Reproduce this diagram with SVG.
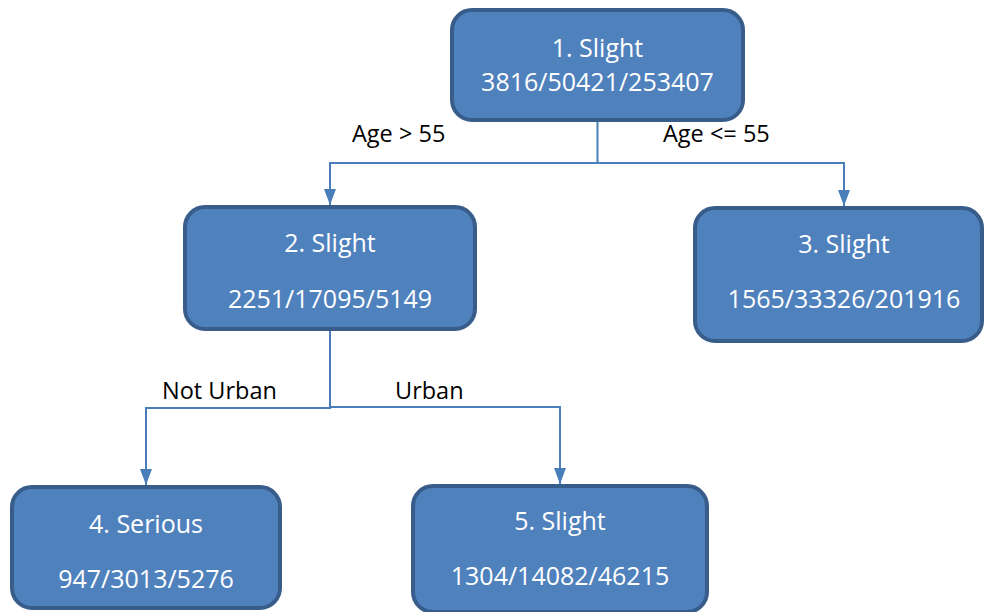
<svg xmlns="http://www.w3.org/2000/svg" width="984" height="612" viewBox="0 0 984 612">
<defs>
<style>
.box{fill:#4f81bd;stroke:#385d8a;stroke-width:4}
.nt{font-family:"Open Sans","Liberation Sans",sans-serif;font-size:25px;fill:#ffffff;text-anchor:middle}
.lbl{font-family:"Open Sans","Liberation Sans",sans-serif;font-size:23.5px;fill:#000000}
.con{fill:none;stroke:#4a7ebb;stroke-width:2}
</style>
<marker id="arr" viewBox="0 0 16 12" refX="16" refY="6" markerWidth="16" markerHeight="12" markerUnits="userSpaceOnUse" orient="auto">
<path d="M0,0 L16,6 L0,12 Z" fill="#4a7ebb"/>
</marker>
</defs>
<rect width="984" height="612" fill="#ffffff"/>
<g id="connectors">
<path class="con" d="M597.5,121 V163 H330 V205" marker-end="url(#arr)"/>
<path class="con" d="M597.5,163 H844 V206" marker-end="url(#arr)"/>
<path class="con" d="M330,331 V408 H146 V485" marker-end="url(#arr)"/>
<path class="con" d="M330,407 H560 V484" marker-end="url(#arr)"/>
</g>
<g id="labels">
<text class="lbl" x="352" y="142">Age &gt; 55</text>
<text class="lbl" x="663" y="142">Age &lt;= 55</text>
<text class="lbl" x="162" y="399">Not Urban</text>
<text class="lbl" x="395" y="399">Urban</text>
</g>
<g id="node1">
<rect class="box" x="452" y="10" width="291" height="110" rx="20"/>
<text class="nt" x="597.5" y="57">1. Slight</text>
<text class="nt" x="597.5" y="91">3816/50421/253407</text>
</g>
<g id="node2">
<rect class="box" x="185" y="207" width="290" height="122" rx="20"/>
<text class="nt" x="330" y="252">2. Slight</text>
<text class="nt" x="330" y="308">2251/17095/5149</text>
</g>
<g id="node3">
<rect class="box" x="695" y="208" width="287" height="133" rx="20"/>
<text class="nt" x="844" y="253">3. Slight</text>
<text class="nt" x="844" y="308">1565/33326/201916</text>
</g>
<g id="node4">
<rect class="box" x="12" y="487" width="268" height="121" rx="20"/>
<text class="nt" x="146" y="533">4. Serious</text>
<text class="nt" x="146" y="588">947/3013/5276</text>
</g>
<g id="node5">
<rect class="box" x="413" y="486" width="294" height="126" rx="20"/>
<text class="nt" x="560" y="530">5. Slight</text>
<text class="nt" x="560" y="585">1304/14082/46215</text>
</g>
</svg>
